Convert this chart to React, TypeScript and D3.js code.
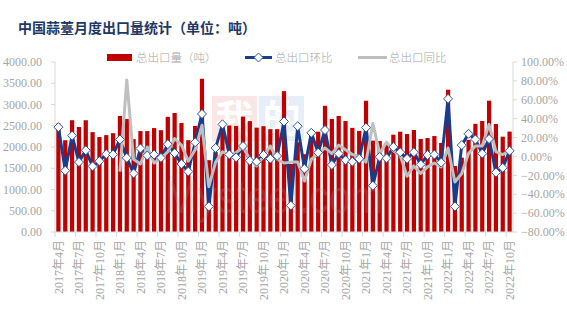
import React from 'react';
import * as d3 from 'd3';

const months = [
  '2017年4月','2017年5月','2017年6月','2017年7月','2017年8月','2017年9月','2017年10月','2017年11月','2017年12月',
  '2018年1月','2018年2月','2018年3月','2018年4月','2018年5月','2018年6月','2018年7月','2018年8月','2018年9月','2018年10月','2018年11月','2018年12月',
  '2019年1月','2019年2月','2019年3月','2019年4月','2019年5月','2019年6月','2019年7月','2019年8月','2019年9月','2019年10月','2019年11月','2019年12月',
  '2020年1月','2020年2月','2020年3月','2020年4月','2020年5月','2020年6月','2020年7月','2020年8月','2020年9月','2020年10月','2020年11月','2020年12月',
  '2021年1月','2021年2月','2021年3月','2021年4月','2021年5月','2021年6月','2021年7月','2021年8月','2021年9月','2021年10月','2021年11月','2021年12月',
  '2022年1月','2022年2月','2022年3月','2022年4月','2022年5月','2022年6月','2022年7月','2022年8月','2022年9月','2022年10月',
];

// 总出口量（吨）
const exportVolume = [
  2550, 2160, 2630, 2470, 2630, 2350, 2235, 2280, 2325,
  2730, 2660, 2185, 2375, 2375, 2445, 2395, 2710, 2800, 2565, 2160, 2495,
  3605, 1690, 1880, 2515, 2505, 2495, 2715, 2610, 2455, 2490, 2420, 2420,
  3315, 1600, 2110, 1830, 2285, 2360, 2970, 2660, 2730, 2612, 2450, 2378,
  3088, 2150, 2142, 2090, 2290, 2360, 2306, 2400, 2190, 2212, 2258, 2095,
  3348, 1555, 1750, 2168, 2545, 2612, 3090, 2540, 2243, 2362,
];

// 总出口环比 (%)
const momChange = [
  31, -15, 22, -6, 6.5, -10.5, -5, 2.5, 2,
  18, -1.5, -18, 8.5, 1, 2, -1.5, 13, 3.5, -8, -16, 15,
  45, -53, 9, 34, 2, -1, 11, -4.5, -5.5, 1.5, -2.5, 0.5,
  37, -52, 32, -13, 25, 4, 28, -9, 3, -4, -5.5, -2.5,
  30.5, -31, -0.5, -2, 10, 4.5, -2.5, 4.5, -8.5, 1.5, 2, -6.5,
  61, -53, 12, 24, 18, 3, 18.5, -17, -12, 6,
];

// 总出口同比 (%), starts at 2018年1月
const yoyChange: (number | null)[] = [
  null, null, null, null, null, null, null, null, null,
  -16, 81, -3, -8, 10, -7, -2, 5, 19, 12, -5, 7,
  33, -32, -6, 5, 1, 4, 10, -3, -10, 0, 11, -3,
  -7, -6, -6, -26, -3, 3, 9, 3, 12, 7, 2, 0,
  -6, 35, 3, 15, 6, 1, -21, -10, -18, -11, -7, -11,
  9, -27, -18, 3, 11, 11, 34, 5, 2, 6,
];

const leftTicks = [0, 500, 1000, 1500, 2000, 2500, 3000, 3500, 4000];
const rightTicks = [-80, -60, -40, -20, 0, 20, 40, 60, 80, 100];

const title = '中国蒜薹月度出口量统计（单位：吨）';
const legendLabels = ['总出口量（吨）', '总出口环比', '总出口同比'];

const W = 567, H = 321;
const plotL = 55, plotR = 513, plotT = 62, plotB = 232;
const RED = '#C00000', BLUE = '#173E8C', GRAY = '#BFBFBF', AXIS = '#D9D9D9', TXT = '#A6A6A6';
const numFont = '"Liberation Serif", "Noto Sans CJK SC", serif';
const cjkFont = '"Noto Sans CJK SC", sans-serif';

const diamond = (r: number) => `M0,${-r}L${r},0L0,${r}L${-r},0Z`;

export default function App() {
  const x = d3.scaleBand<string>().domain(months).range([plotL, plotR]).paddingInner(0.38).paddingOuter(0.19);
  const step = x.step();
  const yL = d3.scaleLinear().domain([0, 4000]).range([plotB, plotT]);
  const yR = d3.scaleLinear().domain([-80, 100]).range([plotB, plotT]);
  const cx = (m: string) => (x(m) as number) + x.bandwidth() / 2;

  const momLine = d3.line<number>().x((_, i) => cx(months[i])).y(d => yR(d)).curve(d3.curveLinear);
  const yoyLine = d3.line<number | null>()
    .defined(d => d !== null)
    .x((_, i) => cx(months[i]))
    .y(d => yR(d as number));

  const fmtL = d3.format('.2f');
  const fmtR = (v: number) => d3.format('.2f')(v) + '%';

  const tickIdx = months.map((_, i) => i).filter(i => i % 3 === 0);

  return (
    <div style={{ position: 'fixed', left: 0, top: 0, width: W, height: H, background: '#fff' }}>
      <svg width={W} height={H} style={{ display: 'block' }}>
        <rect x={0} y={0} width={W} height={H} fill="#fff" />
        {/* Title */}
        <text x={18} y={33} fontFamily={cjkFont} fontWeight={700} fontSize={14} fill="#1F3864">{title}</text>

        {/* Legend */}
        <g fontFamily={cjkFont} fontSize={11.5} fill={TXT} fontWeight={300}>
          <rect x={107} y={54} width={25} height={7} fill={RED} />
          <text x={136} y={61.5}>{legendLabels[0]}</text>
          <line x1={245} x2={272} y1={57.5} y2={57.5} stroke={BLUE} strokeWidth={3} />
          <path d={diamond(4.5)} transform="translate(258.5,57.5)" fill="#fff" stroke="#2F5597" strokeWidth={1} />
          <text x={275} y={61.5}>{legendLabels[1]}</text>
          <line x1={358} x2={387} y1={57.5} y2={57.5} stroke={GRAY} strokeWidth={3} />
          <text x={389} y={61.5}>{legendLabels[2]}</text>
        </g>

        {/* Watermark */}
        <g opacity={0.55}>
          <rect x={212} y={96} width={45} height={45} fill="#F6D3D3" />
          <rect x={259} y={96} width={45} height={45} fill="#D6E1F1" />
          <text x={234.5} y={132} textAnchor="middle" fontFamily={cjkFont} fontSize={38} fontWeight={700} fill="#fff">我</text>
          <text x={281.5} y={132} textAnchor="middle" fontFamily={cjkFont} fontSize={38} fontWeight={700} fill="#fff">的</text>
        </g>

        {/* Bars */}
        <g>
          {exportVolume.map((v, i) => (
            <rect key={i} x={x(months[i])} y={yL(v)} width={x.bandwidth()} height={plotB - yL(v)} fill={RED} />
          ))}
        </g>

        <text x={165} y={213} fontFamily='"Liberation Sans", Arial, sans-serif' fontSize={46} fill="#9A9A9A" opacity={0.22} textLength={218} lengthAdjust="spacingAndGlyphs">Mysteel.com</text>

        {/* Left axis */}
        <line x1={plotL} x2={plotL} y1={plotT} y2={plotB} stroke={AXIS} />
        {leftTicks.map(t => (
          <g key={t}>
            <line x1={plotL - 4} x2={plotL} y1={yL(t)} y2={yL(t)} stroke={AXIS} />
            <text x={42} y={yL(t)} dy="0.35em" textAnchor="end" fontFamily={numFont} fontSize={12} fill={TXT}>{fmtL(t)}</text>
          </g>
        ))}

        {/* Right axis */}
        <line x1={plotR} x2={plotR} y1={plotT} y2={plotB} stroke={AXIS} />
        {rightTicks.map(t => (
          <g key={t}>
            <line x1={plotR} x2={plotR + 4} y1={yR(t)} y2={yR(t)} stroke={AXIS} />
            <text x={521} y={yR(t)} dy="0.35em" textAnchor="start" fontFamily={numFont} fontSize={12} fill={TXT}>{fmtR(t)}</text>
          </g>
        ))}

        {/* Bottom axis */}
        <line x1={plotL} x2={plotR} y1={plotB} y2={plotB} stroke={AXIS} />
        {tickIdx.map(i => {
          const bx = plotL + i * step;
          return <line key={'t' + i} x1={bx} x2={bx} y1={plotB} y2={plotB + 5} stroke={AXIS} />;
        })}
        {tickIdx.map(i => (
          <text key={'l' + i} transform={`translate(${cx(months[i])},240) rotate(-90)`} dy="0.35em" textAnchor="end"
            fontFamily={numFont} fontSize={12} fill={TXT}>{months[i]}</text>
        ))}

        {/* 环比 line */}
        <path d={momLine(momChange) || ''} fill="none" stroke={BLUE} strokeWidth={3} strokeLinejoin="round" />
        {/* 同比 line */}
        <path d={yoyLine(yoyChange) || ''} fill="none" stroke={GRAY} strokeWidth={3} strokeLinejoin="round" />
        {/* 环比 markers */}
        {momChange.map((v, i) => (
          <path key={'m' + i} d={diamond(4.5)} transform={`translate(${cx(months[i])},${yR(v)})`} fill="#fff" stroke="#2F5597" strokeWidth={1} />
        ))}
      </svg>
    </div>
  );
}
